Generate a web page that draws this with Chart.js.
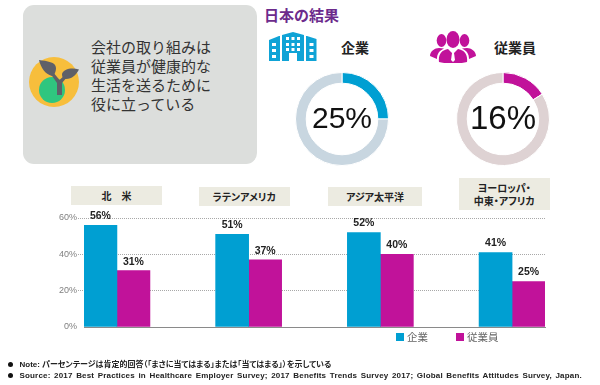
<!DOCTYPE html>
<html>
<head>
<meta charset="utf-8">
<script src="https://cdn.jsdelivr.net/npm/chart.js@4"></script>
<style>
  html, body { margin: 0; padding: 0; background: #fff; }
  #page { position: relative; width: 600px; height: 385px; overflow: hidden; font-family: "Noto Sans CJK JP", sans-serif; }
  #page > * { position: absolute; }
  .panel { left: 22.5px; top: 5px; width: 234.5px; height: 159px; background: #dcdedc; border-radius: 11px; }
  .question { left: 91px; top: 36.5px; font-size: 15px; line-height: 19px; color: #333; white-space: nowrap; }
  .title { left: 264px; top: 4px; font-size: 15px; line-height: 22px; font-weight: 700; color: #6c2b8c; }
  .head { font-size: 14px; line-height: 20px; font-weight: 700; color: #222; top: 37px; }
  .pct { top: 96px; width: 100px; text-align: center; font-family: "Liberation Sans", sans-serif; color: #111; line-height: 44px; }
  .region { background: #ecebe1; font-size: 10px; line-height: 13px; font-weight: 700; color: #222; display: flex; align-items: center; justify-content: center; text-align: center; white-space: pre; font-feature-settings: "palt"; }
  .legend { top: 330px; font-size: 10.5px; line-height: 14px; color: #666; white-space: nowrap; }
  .legend i { position: absolute; left: -11px; top: 3px; width: 8px; height: 8px; }
  .note { left: 19.5px; font-family: "Liberation Sans", "Noto Sans CJK JP", sans-serif; font-weight: 700; font-size: 8.3px; line-height: 11px; color: #222; white-space: nowrap; font-feature-settings: "palt"; }
  .dot { left: 7.5px; width: 5px; height: 5px; border-radius: 50%; background: #111; }
  canvas { position: absolute; }
</style>
</head>
<body>
<div id="page">
  <div class="panel"></div>
  <svg style="left:0;top:0" width="100" height="130" viewBox="0 0 100 130">
    <circle cx="54" cy="82" r="25" fill="#f7be3c"/>
    <circle cx="52" cy="90" r="13" fill="#2fc67f"/>
    <path d="M57 95 L57 83 L50 73 L53 72 L59.5 80 L66 74 L68 76 L62 83 L62 95 Z" fill="#5f6068"/>
    <path d="M39 60 C47 61 56 62 56 68 C56 72 54 76 52 76 C45 74 41 68 39 60 Z" fill="#5f6068"/>
    <path d="M79 69.5 C72 67 63 69 62 74 C62 77 63 79 66 79 C72 79 76 75 79 69.5 Z" fill="#5f6068"/>
  </svg>
  <div class="question">会社の取り組みは<br>従業員が健康的な<br>生活を送るために<br>役に立っている</div>
  <div class="title">日本の結果</div>

  <svg style="left:269px;top:32px" width="48" height="29" viewBox="0 0 48 29">
    <path fill="#0fa3d6" fill-rule="evenodd" d="M0 8 L10 4 L11 4 L11 29 L0 29 Z M13 3 L24 0 L35 3 L35 29 L28 29 L28 21 L20 21 L20 29 L13 29 Z M37 4 L38 4 L47.5 7 L47.5 29 L37 29 Z
      M3 11 h4 v3 h-4 Z M3 17 h4 v3 h-4 Z M3 23 h4 v3 h-4 Z
      M17 5 h3 v3 h-3 Z M22.5 5 h3 v3 h-3 Z M28 5 h3 v3 h-3 Z M17 11 h3 v3 h-3 Z M22.5 11 h3 v3 h-3 Z M28 11 h3 v3 h-3 Z M17 16 h3 v3 h-3 Z M22.5 16 h3 v3 h-3 Z M28 16 h3 v3 h-3 Z
      M40.5 11 h4 v3 h-4 Z M40.5 17 h4 v3 h-4 Z M40.5 23 h4 v3 h-4 Z"/>
  </svg>
  <div class="head" style="left:341px">企業</div>
  <svg style="left:430px;top:31px" width="46" height="32" viewBox="0 0 46 32">
    <g fill="#c1129a">
      <ellipse cx="23" cy="8.5" rx="6.5" ry="8.5"/>
      <ellipse cx="11.5" cy="9.5" rx="4.8" ry="6.5"/>
      <ellipse cx="34.5" cy="9.5" rx="4.8" ry="6.5"/>
      <path d="M9 31 C8 23 12 19 18 18 L23 23 L28 18 C34 19 38 23 37 31 C30 33 16 33 9 31 Z"/>
      <path d="M0 25 C0 20 5 17 9 17 L14 17.5 C9 20 7 23 7 28 Z"/>
      <path d="M46 25 C46 20 41 17 37 17 L32 17.5 C37 20 39 23 39 28 Z"/>
    </g>
    <path d="M22 22 L24 22 L25 29 L23 31 L21 29 Z" fill="#fff"/>
  </svg>
  <div class="head" style="left:494px">従業員</div>

  <canvas id="donutCompany" width="100" height="100" style="left:292px;top:69px"></canvas>
  <canvas id="donutEmployee" width="100" height="100" style="left:453px;top:69px"></canvas>
  <div class="pct" id="pctCompany" style="left:292px;font-size:30px"></div>
  <div class="pct" id="pctEmployee" style="left:453px;font-size:33px"></div>

  <canvas id="regionChart" width="600" height="385" style="left:0;top:0"></canvas>
  <div id="regionBoxes"></div>
  <div id="legendBox"></div>

  <div class="dot" style="left:8px;top:362px"></div>
  <div class="note" style="top:358.5px;font-size:8px">Note: パーセンテージは肯定的回答（「まさに当てはまる」または「当てはまる」）を示している</div>
  <div class="dot" style="left:8px;top:373px"></div>
  <div class="note" style="top:369.5px;font-size:8px;word-spacing:1.2px;letter-spacing:.17px">Source: 2017 Best Practices in Healthcare Employer Survey; 2017 Benefits Trends Survey 2017; Global Benefits Attitudes Survey, Japan.</div>
</div>

<script>
  const categories = ["北　米", "ラテンアメリカ", "アジア太平洋", "ヨーロッパ・\n中東・アフリカ"];
  const seriesNames = ["企業", "従業員"];
  const companyValues = [56, 51, 52, 41];
  const employeeValues = [31, 37, 40, 25];
  const yTicks = [0, 20, 40, 60];
  const japanCompany = 25;
  const japanEmployee = 16;

  const BLUE = "#009fd2";
  const MAGENTA = "#c1129a";

  // 地域ラベルの箱
  const boxPositions = [
    [71, 186, 91, 19],
    [199, 187, 90.5, 19],
    [328, 187, 94, 19],
    [458.5, 178, 91.5, 32],
  ];
  const boxHost = document.getElementById("regionBoxes");
  categories.forEach((name, i) => {
    const box = document.createElement("div");
    const [left, top, width, height] = boxPositions[i];
    box.className = "region";
    box.style.cssText = `position:absolute;left:${left}px;top:${top}px;width:${width}px;height:${height}px`;
    box.textContent = name;
    boxHost.appendChild(box);
  });

  // 凡例
  const legendHost = document.getElementById("legendBox");
  [[407, BLUE], [467, MAGENTA]].forEach(([left, color], i) => {
    const item = document.createElement("div");
    item.className = "legend";
    item.style.cssText = `position:absolute;left:${left}px`;
    item.innerHTML = `<i style="background:${color}"></i>${seriesNames[i]}`;
    legendHost.appendChild(item);
  });

  // ドーナツ
  function makeDonut(id, value, color, rest) {
    new Chart(document.getElementById(id), {
      type: "doughnut",
      data: {
        datasets: [{
          data: [value, 100 - value],
          backgroundColor: [color, rest],
          borderColor: "#fff",
          borderWidth: 1,
        }],
      },
      options: {
        responsive: false,
        animation: false,
        cutout: "77%",
        layout: { padding: 3 },
        plugins: { legend: { display: false }, tooltip: { enabled: false } },
      },
    });
  }
  makeDonut("donutCompany", japanCompany, BLUE, "#c8d6e0");
  makeDonut("donutEmployee", japanEmployee, MAGENTA, "#ded2d3");
  document.getElementById("pctCompany").textContent = japanCompany + "%";
  document.getElementById("pctEmployee").textContent = japanEmployee + "%";

  // 棒の上の数値
  const barValueLabels = {
    id: "barValueLabels",
    afterDatasetsDraw(chart) {
      const { ctx } = chart;
      ctx.save();
      ctx.font = "bold 10.5px 'Liberation Sans'";
      ctx.fillStyle = "#222";
      ctx.textAlign = "center";
      ctx.textBaseline = "middle";
      chart.data.datasets.forEach((dataset, i) => {
        chart.getDatasetMeta(i).data.forEach((bar, j) => {
          ctx.fillText(dataset.data[j].y + "%", bar.x, bar.y - 9);
        });
      });
      ctx.restore();
    },
  };

  const toPoints = (values) => values.map((y, x) => ({ x, y }));

  new Chart(document.getElementById("regionChart"), {
    type: "bar",
    data: {
      datasets: [
        { label: seriesNames[0], data: toPoints(companyValues), backgroundColor: BLUE, barThickness: 33 },
        { label: seriesNames[1], data: toPoints(employeeValues), backgroundColor: MAGENTA, barThickness: 33 },
      ],
    },
    options: {
      responsive: false,
      animation: false,
      layout: { padding: { top: 218, right: 55, bottom: 50, left: 0 } },
      scales: {
        x: {
          type: "linear",
          offset: false,
          min: -0.25,
          max: 3.25,
          ticks: { display: false },
          grid: { display: false },
          border: { color: "#8a8a8a", width: 1 },
        },
        y: {
          min: 0,
          max: 60,
          afterFit: (scale) => { scale.width = 84; },
          afterBuildTicks: (scale) => { scale.ticks = yTicks.map((value) => ({ value })); },
          ticks: {
            padding: 1,
            color: "#808080",
            font: { family: "'Liberation Sans'", size: 9 },
            callback: (v) => v + "%",
          },
          grid: {
            color: (c) => (c.tick.value === 0 ? "transparent" : "#a8a8a8"),
            tickColor: (c) => (c.tick.value === 0 ? "transparent" : "#a8a8a8"),
            tickLength: 6,
            tickBorderDash: [1, 1],
          },
          border: { display: false, dash: [1, 1] },
        },
      },
      plugins: { legend: { display: false }, tooltip: { enabled: false } },
    },
    plugins: [barValueLabels],
  });
</script>
</body>
</html>
